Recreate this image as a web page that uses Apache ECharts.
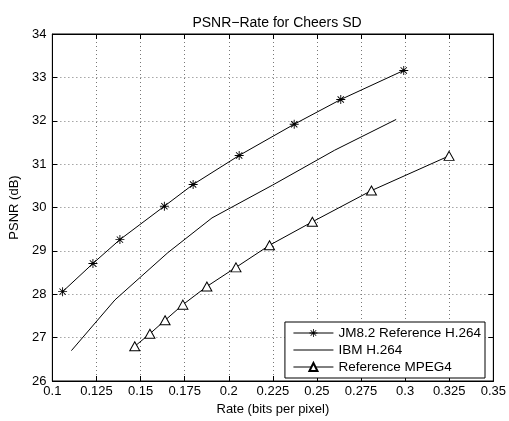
<!DOCTYPE html>
<html>
<head>
<meta charset="utf-8">
<script src="https://cdn.jsdelivr.net/npm/echarts@6/dist/echarts.min.js"></script>
<style>html,body{margin:0;padding:0;background:#fff}#c{width:509px;height:421px}</style>
</head>
<body>
<div id="c"></div>
<script>
var titleText = 'PSNR\u2212Rate for Cheers SD';
var xTicks = [0.1, 0.125, 0.15, 0.175, 0.2, 0.225, 0.25, 0.275, 0.3, 0.325, 0.35];
var yTicks = [26, 27, 28, 29, 30, 31, 32, 33, 34];
var seriesNames = ['JM8.2 Reference H.264', 'IBM H.264', 'Reference MPEG4'];

var jmRate = [0.1058, 0.123, 0.1383, 0.1635, 0.1798, 0.2059, 0.2371, 0.2635, 0.2992];
var jmPsnr = [28.06, 28.71, 29.26, 30.03, 30.53, 31.20, 31.92, 32.49, 33.16];

var ibmRate = [0.1108, 0.1355, 0.1655, 0.1905, 0.225, 0.26, 0.2949];
var ibmPsnr = [26.70, 27.87, 28.96, 29.76, 30.52, 31.32, 32.03];

var mpegRate = [0.1467, 0.1553, 0.1639, 0.174, 0.1876, 0.2041, 0.2231, 0.2474, 0.2809, 0.3249];
var mpegPsnr = [26.80, 27.09, 27.40, 27.76, 28.18, 28.62, 29.13, 29.67, 30.39, 31.19];

function pairs(xs, ys) { return xs.map(function (x, i) { return [x, ys[i]]; }); }

var FONT = '"Liberation Sans", Arial, Helvetica, sans-serif';
var asterisk = 'path://M-0.1 -1 L0.1 -1 L0.1 1 L-0.1 1 Z M-1 -0.1 L1 -0.1 L1 0.1 L-1 0.1 Z M-0.77 -0.63 L-0.63 -0.77 L0.77 0.63 L0.63 0.77 Z M-0.77 0.63 L0.63 -0.77 L0.77 -0.63 L-0.63 0.77 Z';

var fmt = function (v) { return String(parseFloat(v.toFixed(3))); };
var gridLine = { show: true, lineStyle: { color: '#777', type: [1, 3], width: 1 } };

var chart = echarts.init(document.getElementById('c'), null, { renderer: 'canvas' });
chart.setOption({
  animation: false,
  backgroundColor: '#fff',
  textStyle: { fontFamily: FONT },
  title: {
    text: titleText, left: 272, top: 11, textAlign: 'center',
    textStyle: { fontFamily: FONT, fontSize: 14, fontWeight: 'normal', color: '#000' }
  },
  grid: { left: 49, right: 14, top: 34, bottom: 36, show: true, borderColor: '#000', borderWidth: 1, containLabel: false },
  legend: {
    orient: 'vertical', right: 24, bottom: 43,
    backgroundColor: '#fff', borderColor: '#000', borderWidth: 1,
    padding: [4, 4, 4, 8], itemGap: 3, itemWidth: 40, itemHeight: 10,
    lineStyle: { width: 1, color: '#000' },
    textStyle: { fontFamily: FONT, fontSize: 13.5, color: '#000' },
    data: seriesNames
  },
  xAxis: [{
    type: 'value', min: xTicks[0], max: xTicks[xTicks.length - 1], interval: 0.025,
    name: 'Rate (bits per pixel)', nameLocation: 'middle', nameGap: 22,
    nameTextStyle: { fontFamily: FONT, fontSize: 13, color: '#000' },
    axisLine: { show: true, lineStyle: { color: '#000' } },
    axisTick: { show: true, inside: true, length: 5, lineStyle: { color: '#000' } },
    axisLabel: { formatter: fmt, fontFamily: FONT, fontSize: 13, color: '#000', margin: 4 },
    splitLine: gridLine
  }, {
    type: 'value', position: 'top', min: xTicks[0], max: xTicks[xTicks.length - 1], interval: 0.025,
    axisLine: { show: true, lineStyle: { color: '#000' } },
    axisTick: { show: true, inside: true, length: 5, lineStyle: { color: '#000' } },
    axisLabel: { show: false }, splitLine: { show: false }
  }],
  yAxis: [{
    type: 'value', min: yTicks[0], max: yTicks[yTicks.length - 1], interval: 1,
    name: 'PSNR (dB)', nameLocation: 'middle', nameGap: 27,
    nameTextStyle: { fontFamily: FONT, fontSize: 13, color: '#000' },
    axisLine: { show: true, lineStyle: { color: '#000' } },
    axisTick: { show: true, inside: true, length: 5, lineStyle: { color: '#000' } },
    axisLabel: { fontFamily: FONT, fontSize: 13, color: '#000', margin: 6 },
    splitLine: gridLine
  }, {
    type: 'value', position: 'right', min: yTicks[0], max: yTicks[yTicks.length - 1], interval: 1,
    axisLine: { show: true, lineStyle: { color: '#000' } },
    axisTick: { show: true, inside: true, length: 5, lineStyle: { color: '#000' } },
    axisLabel: { show: false }, splitLine: { show: false }
  }],
  series: [{
    name: seriesNames[0], type: 'line', data: pairs(jmRate, jmPsnr),
    symbol: asterisk, symbolSize: 9, showSymbol: true,
    lineStyle: { color: '#000', width: 1 },
    itemStyle: { color: '#000', borderWidth: 0 }
  }, {
    name: seriesNames[1], type: 'line', data: pairs(ibmRate, ibmPsnr),
    symbol: 'circle', symbolSize: 1, showSymbol: false,
    lineStyle: { color: '#000', width: 1 },
    itemStyle: { color: 'rgba(0,0,0,0)', borderWidth: 0 }
  }, {
    name: seriesNames[2], type: 'line', data: pairs(mpegRate, mpegPsnr),
    symbol: 'triangle', symbolSize: [10, 9], showSymbol: true,
    lineStyle: { color: '#000', width: 1 },
    itemStyle: { color: '#fff', borderColor: '#000', borderWidth: 1 }
  }]
});
</script>
</body>
</html>
